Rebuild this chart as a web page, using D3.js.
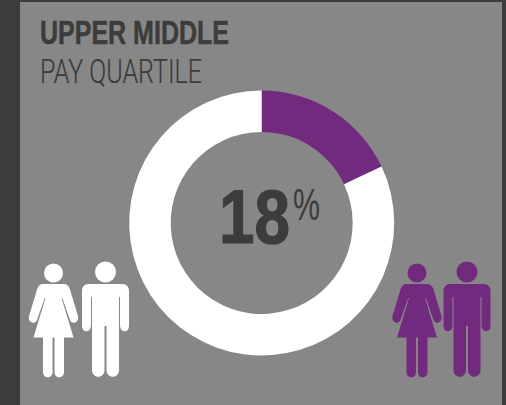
<!DOCTYPE html>
<html><head><meta charset="utf-8">
<script src="https://cdnjs.cloudflare.com/ajax/libs/d3/7.8.5/d3.min.js"></script>
<style>html,body{margin:0;padding:0;background:#3c3c3b}svg{display:block}
text{font-family:"Liberation Sans Narrow","Liberation Sans",sans-serif;fill:#3c3c3b}</style>
</head><body>
<script>
const titleLines = ["UPPER MIDDLE", "PAY QUARTILE"];
const shares = [18, 82];
const shareColors = ["#722a7f", "#ffffff"];
const shareLabel = "18";
const unitLabel = "%";
const figureColors = ["#ffffff", "#722a7f"];

const W = 506, H = 405, bg = "#878787";
const svg = d3.select("body").append("svg").attr("width", W).attr("height", H);
svg.append("rect").attr("width", W).attr("height", H).attr("fill", "#3c3c3b");
svg.append("rect").attr("x", 20).attr("y", 2).attr("width", 482).attr("height", 403).attr("fill", bg);

// Title
svg.append("text").attr("x", 40).attr("y", 44).attr("font-size", 32.5).attr("font-weight", 700)
  .attr("stroke", "#3c3c3b").attr("stroke-width", 0.5)
  .attr("textLength", 189).attr("lengthAdjust", "spacingAndGlyphs").text(titleLines[0]);
svg.append("text").attr("x", 40).attr("y", 83).attr("font-size", 33).attr("font-weight", 300)
  .style("font-family", "Roboto,sans-serif")
  .attr("stroke", "#3c3c3b").attr("stroke-width", 0.2)
  .attr("textLength", 162).attr("lengthAdjust", "spacingAndGlyphs").text(titleLines[1]);

// Donut
const pie = d3.pie().sort(null).value(d => d);
const arc = d3.arc().innerRadius(91).outerRadius(132.5);
svg.append("g").attr("transform", "translate(261.7,223)")
  .selectAll("path").data(pie(shares)).join("path")
  .attr("d", arc).attr("fill", (d, i) => shareColors[i]);

// Centre label: one text with the unit raised as a tspan
const label = svg.append("text").attr("x", 219).attr("y", 243).attr("font-size", 76).attr("font-weight", 700)
  .attr("stroke", "#3c3c3b").attr("stroke-width", 1.2);
label.append("tspan").attr("textLength", 71).attr("lengthAdjust", "spacingAndGlyphs").text(shareLabel);
label.append("tspan").attr("x", 293).attr("y", 220).attr("font-size", 45).attr("font-weight", 400)
  .attr("stroke", "none")
  .attr("textLength", 27).attr("lengthAdjust", "spacingAndGlyphs").text(unitLabel);

// Pictograms
const womanPath = "M-11,11 L11,11 C13,11 15,13 16,15 L24.5,43 C26,50 18,52 16.5,47 L8.8,25 L8,25 L20,64.5 L10.5,64.5 L10.5,99 C10.5,106 1,106 1,99 L1,64.5 L-1,64.5 L-1,99 C-1,106 -10.5,106 -10.5,99 L-10.5,64.5 L-20,64.5 L-8,25 L-8.8,25 L-16.5,47 C-18,52 -26,50 -24.5,43 L-16,15 C-15,13 -13,11 -11,11 Z";
const manPath = "M-17,12 L17,12 C21,12 23.5,15 23.5,19 L23.5,54 C23.5,61 15,61 14.5,54 L14.5,25 L13.5,25 L13.5,98 C13.5,107 1,107 1,98 L1,54 L-1,54 L-1,98 C-1,107 -13.5,107 -13.5,98 L-13.5,25 L-14.5,25 L-14.5,54 C-15,61 -23.5,61 -23.5,54 L-23.5,19 C-23.5,15 -21,12 -17,12 Z";
const figures = [
  {x: 53.5, y: 273, r: 9.5, d: womanPath, c: 0},
  {x: 105.5, y: 272, r: 10.5, d: manPath, c: 0},
  {x: 417, y: 273, r: 9.5, d: womanPath, c: 1},
  {x: 467, y: 272, r: 10.5, d: manPath, c: 1}
];
const fg = svg.selectAll("g.fig").data(figures).join("g").attr("class", "fig")
  .attr("transform", d => `translate(${d.x},${d.y})`).attr("fill", d => figureColors[d.c]);
fg.append("circle").attr("r", d => d.r);
fg.append("path").attr("d", d => d.d);
</script>
</body></html>
